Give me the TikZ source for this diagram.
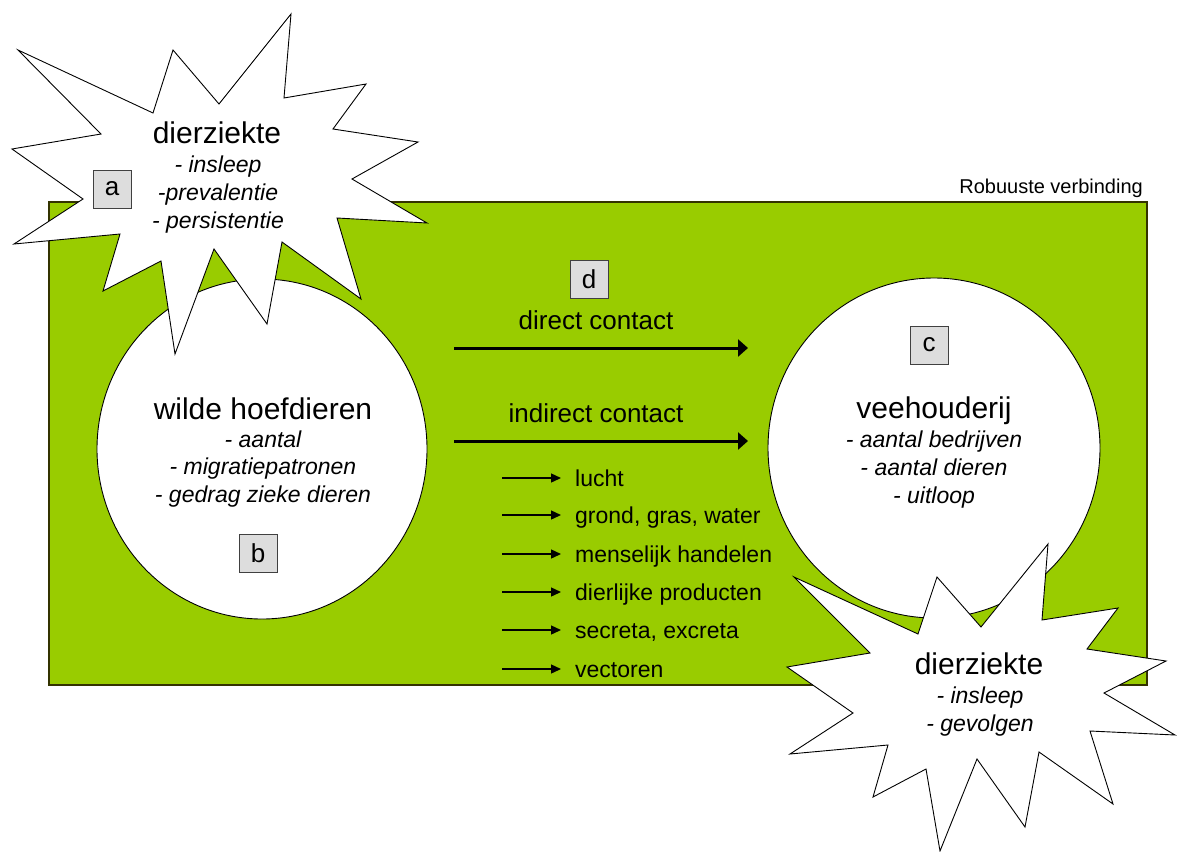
\documentclass[tikz,border=0pt]{standalone}
\usepackage{fontspec}
\setmainfont{Liberation Sans}
\usetikzlibrary{arrows.meta}
\definecolor{leafgreen}{HTML}{99CC00}
\definecolor{rectedge}{HTML}{333300}
\definecolor{boxgray}{HTML}{DDDDDD}
\definecolor{boxedge}{HTML}{404040}
\begin{document}
\begin{tikzpicture}[x=1pt,y=-1pt,
  title/.style={anchor=base,inner sep=0pt,font=\fontsize{30}{36}\selectfont},
  itemline/.style={anchor=base,inner sep=0pt,font=\fontsize{23}{28}\selectfont\itshape},
  contactlabel/.style={anchor=base,inner sep=0pt,font=\fontsize{26}{31}\selectfont},
  listlabel/.style={anchor=base west,inner sep=0pt,font=\fontsize{23}{28}\selectfont},
  letterbox/.style={draw=boxedge,fill=boxgray,line width=0.9pt,minimum width=38pt,minimum height=38pt,inner sep=0pt,font=\fontsize{26}{31}\selectfont},
  bigarrow/.style={line width=3pt,-{Triangle[length=10pt,width=17pt]}},
  smallarrow/.style={line width=1.4pt,-{Triangle[length=10pt,width=9pt]}},
  burst/.style={draw=black,fill=white,line width=0.9pt,line join=miter},
  blob/.style={draw=black,fill=white,line width=0.9pt}
]
\useasboundingbox (0,0) rectangle (1179,852);

% green area
\draw[fill=leafgreen,draw=rectedge,line width=1.6pt] (49,202) rectangle (1147,685);
\node[anchor=base east,inner sep=0pt,font=\fontsize{20}{24}\selectfont] (robuust) at (1143,193) {Robuuste verbinding};

% circles
\draw[blob] (262,449) ellipse [x radius=165, y radius=170];
\draw[blob] (934,448) ellipse [x radius=166, y radius=170];

% top-left starburst
\draw[burst] (291,14) -- (284,98) -- (366,84) -- (333,129) -- (418,142) -- (352,179)
  -- (427,223) -- (337,218) -- (361,299) -- (282,242) -- (267,324) -- (214,249)
  -- (175,354) -- (161,261) -- (103,291) -- (120,234) -- (14,244) -- (83,199)
  -- (12,149) -- (101,134) -- (18,50) -- (153,113) -- (173,50) -- (219,104) -- cycle;

% bottom-right starburst
\draw[burst] (1048,544) -- (1042,620) -- (1118,608) -- (1087,649) -- (1166,661) -- (1104,693)
  -- (1175,735) -- (1090,731) -- (1113,804) -- (1039,752) -- (1025,827) -- (977,759)
  -- (940,851) -- (926,769) -- (873,797) -- (888,745) -- (790,754) -- (853,713)
  -- (787,667) -- (870,653) -- (794,577) -- (918,634) -- (937,577) -- (981,627) -- cycle;

% top-left starburst text
\node[title] (dz1) at (217,143) {dierziekte};
\node[itemline] (dz1a) at (218,172) {- insleep};
\node[itemline] (dz1b) at (218,200) {-prevalentie};
\node[itemline] (dz1c) at (218,228) {- persistentie};
\node[letterbox] (boxa) at (112,189) {a};

% left circle text
\node[title] (wild) at (263,419) {wilde hoefdieren};
\node[itemline] (wilda) at (263,447) {- aantal};
\node[itemline] (wildb) at (263,474) {- migratiepatronen};
\node[itemline] (wildc) at (263,502) {- gedrag zieke dieren};
\node[letterbox] (boxb) at (258,553) {b};

% right circle text
\node[letterbox] (boxc) at (929,345) {c};
\node[title] (vee) at (934,418) {veehouderij};
\node[itemline] (veea) at (934,447) {- aantal bedrijven};
\node[itemline] (veeb) at (934,475) {- aantal dieren};
\node[itemline] (veec) at (934,503) {- uitloop};

% bottom-right starburst text
\node[title] (dz2) at (979,674) {dierziekte};
\node[itemline] (dz2a) at (980,703) {- insleep};
\node[itemline] (dz2b) at (980,731) {- gevolgen};

% contacts
\node[letterbox] (boxd) at (589,279) {d};
\node[contactlabel] (direct) at (596,329) {direct contact};
\node[contactlabel] (indirect) at (596,422) {indirect contact};
\coordinate (d1) at (454,348);
\coordinate (d2) at (748,348);
\coordinate (i1) at (454,441);
\coordinate (i2) at (748,441);
\draw[bigarrow] (d1) -- (d2);
\draw[bigarrow] (i1) -- (i2);

% list
\foreach \name/\yy/\txt in {lucht/486/lucht, grond/523/{grond, gras, water}, mens/562/menselijk handelen,
  dier/600/dierlijke producten, secr/638/{secreta, excreta}, vect/677/vectoren}{
  \node[listlabel] (\name) at (575,\yy) {\txt};
  \coordinate (\name s) at (502,\yy-8);
  \coordinate (\name e) at (561,\yy-8);
  \draw[smallarrow] (\name s) -- (\name e);
}
\end{tikzpicture}
\end{document}
